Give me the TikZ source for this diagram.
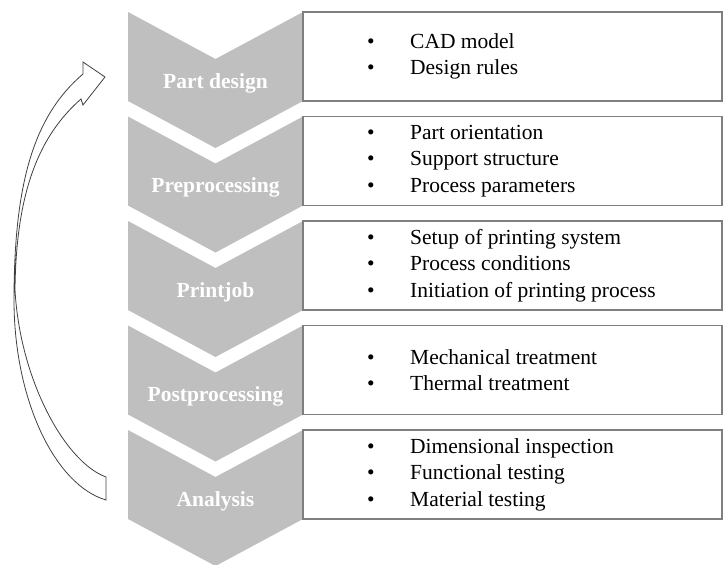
\documentclass[tikz,border=0pt]{standalone}
\usepackage{fontspec}
\setmainfont{Liberation Serif}
\usetikzlibrary{positioning}
\definecolor{chevgray}{RGB}{191,191,191}
\definecolor{boxline}{RGB}{127,127,127}
\newcommand{\itm}{\makebox[43pt][l]{\textbullet}}
\newcommand{\bigfont}{\fontsize{21.5pt}{26.5pt}\selectfont}
\tikzstyle{chev} = [fill=chevgray, draw=none]
\tikzstyle{stage} = [draw=none, text=white, font=\bigfont\bfseries, inner sep=0pt]
\tikzstyle{infobox} = [rectangle, draw=boxline, line width=1.2pt, minimum width=419pt, minimum height=89pt, inner sep=0pt, outer sep=0pt]
\tikzstyle{itemlist} = [draw=none, align=left, font=\bigfont, inner sep=0pt]
\tikzstyle{loopline} = [draw=black!75, line width=0.8pt, line join=miter]

\begin{document}
\begin{tikzpicture}[x=1pt, y=-1pt, node distance=104.5pt]
		\useasboundingbox (0,0) rectangle (724,565);
		
		% chevrons
		\fill [chev] (128,12) -- ++(87.5,47) -- ++(87.5,-47) -- ++(0,89) -- ++(-87.5,47) -- ++(-87.5,-47) -- cycle;
		\fill [chev] (128,116.5) -- ++(87.5,47) -- ++(87.5,-47) -- ++(0,89) -- ++(-87.5,47) -- ++(-87.5,-47) -- cycle;
		\fill [chev] (128,221) -- ++(87.5,47) -- ++(87.5,-47) -- ++(0,89) -- ++(-87.5,47) -- ++(-87.5,-47) -- cycle;
		\fill [chev] (128,325.5) -- ++(87.5,47) -- ++(87.5,-47) -- ++(0,89) -- ++(-87.5,47) -- ++(-87.5,-47) -- cycle;
		\fill [chev] (128,430) -- ++(87.5,47) -- ++(87.5,-47) -- ++(0,89) -- ++(-87.5,47) -- ++(-87.5,-47) -- cycle;
		
		\node (design) [stage] at (215.5,83) {Part design};
		\node (pre) [stage, below of=design] {Preprocessing};
		\node (printjob) [stage, below of=pre] {Printjob};
		\node (post) [stage, below of=printjob] {Postprocessing};
		\node (analysis) [stage, below of=post] {Analysis};
		
		% boxes
		\node (box_design) [infobox] at (512.5,56.5) {};
		\node (box_pre) [infobox, below of=box_design] {};
		\node (box_print) [infobox, below of=box_pre] {};
		\node (box_post) [infobox, below of=box_print] {};
		\node (box_analysis) [infobox, below of=box_post] {};
		
		\node (list_design) [itemlist, right=64pt of box_design.west] {\itm CAD model\\ \itm Design rules};
		\node (list_pre) [itemlist, right=64pt of box_pre.west] {\itm Part orientation\\ \itm Support structure\\ \itm Process parameters};
		\node (list_print) [itemlist, right=64pt of box_print.west] {\itm Setup of printing system\\ \itm Process conditions\\ \itm Initiation of printing process};
		\node (list_post) [itemlist, right=64pt of box_post.west] {\itm Mechanical treatment\\ \itm Thermal treatment};
		\node (list_analysis) [itemlist, right=64pt of box_analysis.west] {\itm Dimensional inspection\\ \itm Functional testing\\ \itm Material testing};
		
		% loop back arrow
		\coordinate (tip) at (105,77);
		\coordinate (tail) at (106,488);
		\draw [loopline] (83,74) -- (83,62) -- (tip) -- (83,105) -- (81,99)
			.. controls (40,135) and (16,190) .. (15,290)
			.. controls (20,380) and (65,462) .. (106,477) -- (106,500)
			.. controls (55,485) and (14,400) .. (14,300)
			.. controls (14,180) and (35,115) .. cycle;
		\end{tikzpicture}
\end{document}
